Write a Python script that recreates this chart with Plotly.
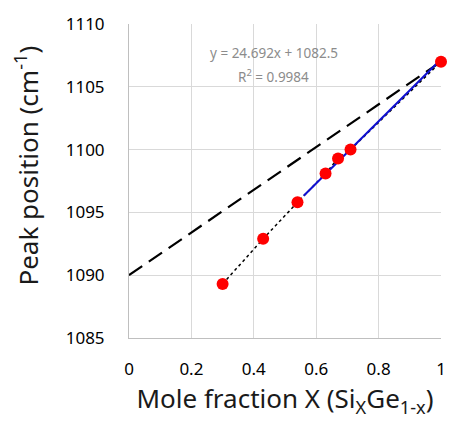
import plotly.graph_objects as go

# Data
mole_fraction = [0.30, 0.43, 0.54, 0.63, 0.67, 0.71, 1.00]
peak_position = [1089.3, 1092.9, 1095.8, 1098.1, 1099.3, 1100.0, 1107.0]

# Linear fit (shown for the Si-rich range)
fit_slope = 24.692
fit_intercept = 1082.5
fit_x = [0.56, 1.0]
fit_y = [fit_slope * v + fit_intercept for v in fit_x]

# Reference (dashed) line
ref_x = [0.0, 1.0]
ref_y = [1090.0, 1107.0]

x_ticks = [0, 0.2, 0.4, 0.6, 0.8, 1]
y_ticks = [1085, 1090, 1095, 1100, 1105, 1110]

font_family = "Noto Sans, DejaVu Sans, sans-serif"

fig = go.Figure()
fig.add_trace(go.Scatter(x=ref_x, y=ref_y, mode="lines",
                         line=dict(color="black", width=2.2, dash="16px,8px"),
                         showlegend=False, hoverinfo="skip"))
fig.add_trace(go.Scatter(x=mole_fraction, y=peak_position, mode="lines",
                         line=dict(color="black", width=1.5, dash="dot"),
                         showlegend=False, hoverinfo="skip"))
fig.add_trace(go.Scatter(x=fit_x, y=fit_y, mode="lines",
                         line=dict(color="#1010d0", width=2),
                         showlegend=False, hoverinfo="skip"))
fig.add_trace(go.Scatter(x=mole_fraction, y=peak_position, mode="markers",
                         marker=dict(color="#ff0000", size=12),
                         showlegend=False, cliponaxis=False))

fig.add_annotation(x=0.464, y=1107.7, xref="x", yref="y",
                   text="y = 24.692x + 1082.5", showarrow=False,
                   font=dict(size=13.5, color="#8c8c8c", family=font_family))
fig.add_annotation(x=0.464, y=1105.9, xref="x", yref="y",
                   text="R<sup>2</sup> = 0.9984", showarrow=False,
                   font=dict(size=13.5, color="#8c8c8c", family=font_family))

# Y-axis title (placed as an annotation to match the reference position)
fig.add_annotation(x=-0.328, y=0.548, xref="paper", yref="paper",
                   text="Peak position (cm<sup>-1</sup>)", textangle=-90,
                   showarrow=False, xanchor="center", yanchor="middle",
                   font=dict(size=26, color="#1a1a1a", family=font_family))

fig.update_xaxes(range=[0, 1], tickvals=x_ticks, ticktext=[str(t) for t in x_ticks],
                 showgrid=True, gridcolor="#d9d9d9", gridwidth=1,
                 showline=True, linecolor="#bfbfbf", linewidth=1,
                 zeroline=False, ticks="", ticklabelstandoff=16,
                 tickfont=dict(size=17, color="black", family=font_family),
                 title=dict(text="Mole fraction X (Si<sub>X</sub>Ge<sub>1-x</sub>)",
                            font=dict(size=26, color="#1a1a1a", family=font_family),
                            standoff=8))
fig.update_yaxes(range=[1085, 1110], tickvals=y_ticks,
                 showgrid=True, gridcolor="#d9d9d9", gridwidth=1,
                 showline=True, linecolor="#bfbfbf", linewidth=1,
                 zeroline=False, ticks="", ticklabelstandoff=20,
                 tickfont=dict(size=17, color="black", family=font_family))

fig.update_layout(width=453, height=421,
                  margin=dict(l=129, r=7, t=24, b=83),
                  paper_bgcolor="white", plot_bgcolor="white")

fig.write_html("out.html")
